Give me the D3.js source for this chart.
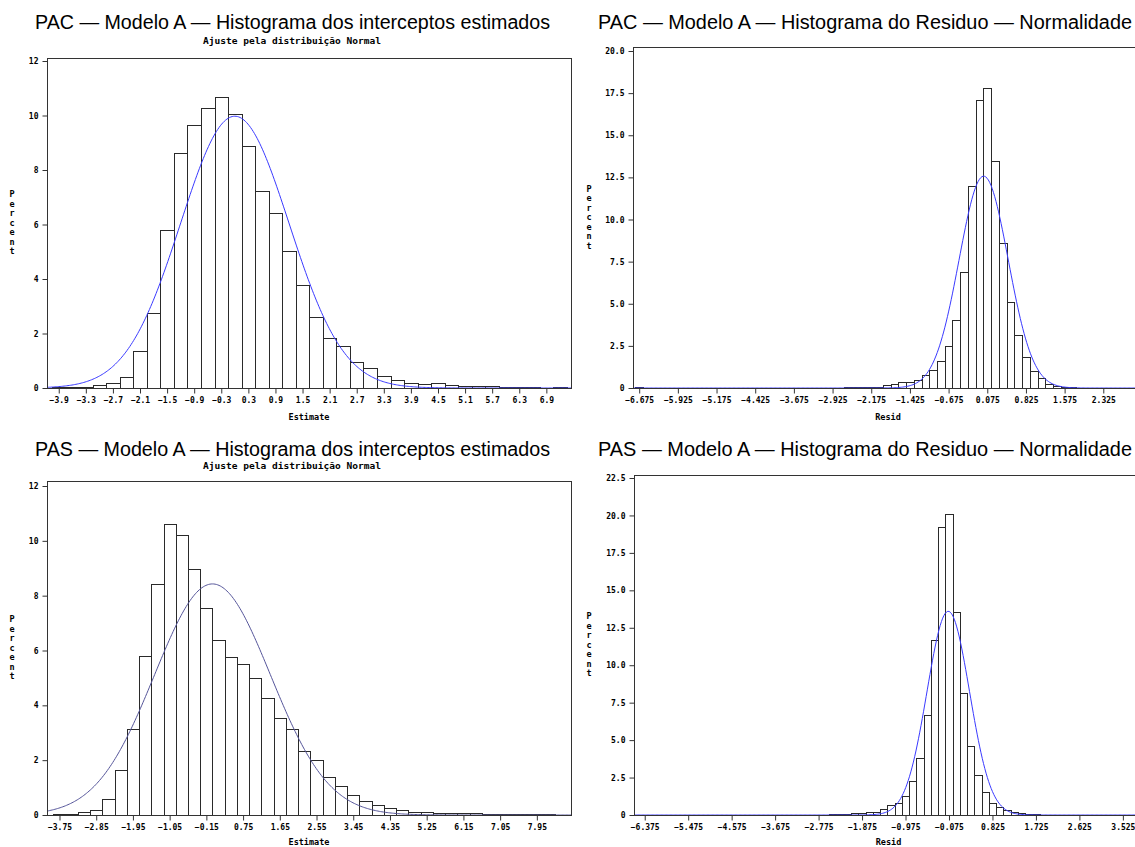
<!DOCTYPE html>
<html>
<head>
<meta charset="utf-8">
<script src="https://cdn.jsdelivr.net/npm/d3@7"></script>
<style>
  body { margin: 0; background: #fff; }
  svg text { fill: #000; }
</style>
</head>
<body>
<svg id="chart" width="1135" height="847"></svg>
<script>
// ---------- PAC: estimated intercepts (bin width 0.3) ----------
const pacEstMid = [-3.9,-3.6,-3.3,-3.0,-2.7,-2.4,-2.1,-1.8,-1.5,-1.2,-0.9,-0.6,-0.3,0.0,0.3,0.6,0.9,1.2,1.5,1.8,
  2.1,2.4,2.7,3.0,3.3,3.6,3.9,4.2,4.5,4.8,5.1,5.4,5.7,6.0,6.3,6.6,6.9,7.2];
const pacEstPct = [0.03,0.03,0.04,0.10,0.18,0.42,1.35,2.76,5.81,8.62,9.64,10.26,10.69,10.04,8.88,7.22,6.43,5.01,3.77,2.61,
  1.82,1.55,0.97,0.73,0.45,0.30,0.17,0.13,0.17,0.11,0.08,0.07,0.08,0.04,0.02,0.03,0.01,0.03];
const pacEstTicks = [-3.9,-3.3,-2.7,-2.1,-1.5,-0.9,-0.3,0.3,0.9,1.5,2.1,2.7,3.3,3.9,4.5,5.1,5.7,6.3,6.9];
const pacEstFit = { mu: 0.0, sigma: 1.2, binWidth: 0.3 };

// ---------- PAC: residuals (bin width 0.15) ----------
const pacResMid = [-6.675,-6.525,-6.375,-6.225,-6.075,-5.925,-5.775,-5.625,-5.475,-5.325,-5.175,-5.025,-4.875,-4.725,
  -4.575,-4.425,-4.275,-4.125,-3.975,-3.825,-3.675,-3.525,-3.375,-3.225,-3.075,-2.925,-2.775,-2.625,-2.475,-2.325,
  -2.175,-2.025,-1.875,-1.725,-1.575,-1.425,-1.275,-1.125,-0.975,-0.825,-0.675,-0.525,-0.375,-0.225,-0.075,
  0.075,0.225,0.375,0.525,0.675,0.825,0.975,1.125,1.275,1.425,1.575,1.725,1.875,2.025];
const pacResPct = [0.03,0,0,0,0,0,0,0,0,0,0,0,0,0,
  0.02,0.02,0.02,0.02,0,0.02,0.02,0.02,0.02,0.02,0.02,0.02,0.02,0.03,0.05,0.05,
  0.07,0.08,0.16,0.23,0.35,0.33,0.50,0.78,1.08,1.59,2.50,4.06,6.90,12.0,17.1,
  17.8,13.47,8.60,5.08,3.15,1.85,1.03,0.59,0.24,0.14,0.08,0.05,0.02,0.02];
const pacResTicks = [-6.675,-5.925,-5.175,-4.425,-3.675,-2.925,-2.175,-1.425,-0.675,0.075,0.825,1.575,2.325];
const pacResFit = { mu: 0.005, sigma: 0.476, binWidth: 0.15 };

// ---------- PAS: estimated intercepts (bin width 0.3) ----------
const pasEstMid = [-3.75,-3.45,-3.15,-2.85,-2.55,-2.25,-1.95,-1.65,-1.35,-1.05,-0.75,-0.45,-0.15,0.15,0.45,0.75,1.05,
  1.35,1.65,1.95,2.25,2.55,2.85,3.15,3.45,3.75,4.05,4.35,4.65,4.95,5.25,5.55,5.85,6.15,6.45,6.75,7.05,7.35,7.65,7.95,8.25];
const pasEstPct = [0.05,0.05,0.12,0.20,0.60,1.65,3.14,5.81,8.43,10.60,10.22,8.99,7.55,6.40,5.76,5.52,5.01,
  4.25,3.54,3.12,2.32,2.00,1.40,1.05,0.73,0.52,0.38,0.24,0.20,0.10,0.10,0.08,0.06,0.08,0.06,0.04,0.03,0.03,0.03,0.03,0.03];
const pasEstTicks = [-3.75,-2.85,-1.95,-1.05,-0.15,0.75,1.65,2.55,3.45,4.35,5.25,6.15,7.05,7.95];
const pasEstFit = { mu: 0.0, sigma: 1.42, binWidth: 0.3 };

// ---------- PAS: residuals (bin width 0.15) ----------
const pasResMid = [-4.575,-4.425,-4.275,-4.125,-3.975,-3.825,-3.675,-3.525,-3.375,-3.225,-3.075,-2.925,-2.775,-2.625,
  -2.475,-2.325,-2.175,-2.025,-1.875,-1.725,-1.575,-1.425,-1.275,-1.125,-0.975,-0.825,-0.675,-0.525,-0.375,-0.225,-0.075,
  0.075,0.225,0.375,0.525,0.675,0.825,0.975,1.125,1.275,1.425,1.575,1.725,1.875,2.025,2.175];
const pasResPct = [0.02,0.02,0.02,0.02,0.02,0.02,0.02,0.02,0.02,0.02,0.02,0.02,0.02,0.03,
  0.04,0.10,0.10,0.13,0.15,0.18,0.20,0.42,0.64,0.82,1.30,2.26,3.80,6.66,11.7,19.25,20.1,
  13.55,8.12,4.58,2.70,1.53,0.82,0.53,0.33,0.18,0.11,0.08,0.04,0.03,0.02,0.02];
const pasResTicks = [-6.375,-5.475,-4.575,-3.675,-2.775,-1.875,-0.975,-0.075,0.825,1.725,2.625,3.525];
const pasResFit = { mu: -0.09, sigma: 0.44, binWidth: 0.15 };

// ---------- y axis ticks ----------
const estYTicks = [0,2,4,6,8,10,12];
const pacResYTicks = [0,2.5,5,7.5,10,12.5,15,17.5,20];
const pasResYTicks = [0,2.5,5,7.5,10,12.5,15,17.5,20,22.5];

// ---------- panel layout ----------
const panels = [
  { title: "PAC \u2014 Modelo A \u2014 Histograma dos interceptos estimados", titleX: 35, titleW: 515, titleY: 29,
    subtitle: "Ajuste pela distribui\u00e7\u00e3o Normal", subY: 44, xLabel: "Estimate", xLabelDy: 32, yLabelX: 12,
    mids: pacEstMid, pct: pacEstPct, xTicks: pacEstTicks, xFmt: d3.format(".1f"), fit: pacEstFit,
    yTicks: estYTicks, yFmt: d => d3.format("d")(d),
    frame: { l: 47, t: 58, r: 571, b: 388 }, xDom: [-4.16, 7.446], yDom: [0, 12], yTop: 61,
    curve: "#3a3aff" },
  { title: "PAC \u2014 Modelo A \u2014 Histograma do Residuo \u2014 Normalidade", titleX: 598, titleW: 534, titleY: 29,
    subtitle: null, xLabel: "Resid", xLabelDy: 32, yLabelX: 589,
    mids: pacResMid, pct: pacResPct, xTicks: pacResTicks, xFmt: d3.format(".3f"), fit: pacResFit,
    yTicks: pacResYTicks, yFmt: d => d === 0 ? "0" : d3.format(".1f")(d),
    frame: { l: 633, t: 47, r: 1143, b: 388 }, xDom: [-6.795, 3.095], yDom: [0, 20], yTop: 51,
    curve: "#3a3aff" },
  { title: "PAS \u2014 Modelo A \u2014 Histograma dos interceptos estimados", titleX: 35, titleW: 515, titleY: 456,
    subtitle: "Ajuste pela distribui\u00e7\u00e3o Normal", subY: 469, xLabel: "Estimate", xLabelDy: 30, yLabelX: 12,
    mids: pasEstMid, pct: pasEstPct, xTicks: pasEstTicks, xFmt: d3.format(".2f"), fit: pasEstFit,
    yTicks: estYTicks, yFmt: d => d3.format("d")(d),
    frame: { l: 47, t: 481, r: 571, b: 815 }, xDom: [-4.056, 8.787], yDom: [0, 12], yTop: 486,
    curve: "#55559a" },
  { title: "PAS \u2014 Modelo A \u2014 Histograma do Residuo \u2014 Normalidade", titleX: 598, titleW: 534, titleY: 456,
    subtitle: null, xLabel: "Resid", xLabelDy: 30, yLabelX: 589,
    mids: pasResMid, pct: pasResPct, xTicks: pasResTicks, xFmt: d3.format(".3f"), fit: pasResFit,
    yTicks: pasResYTicks, yFmt: d => d === 0 ? "0" : d3.format(".1f")(d),
    frame: { l: 634, t: 475, r: 1143, b: 815 }, xDom: [-6.597, 3.942], yDom: [0, 22.5], yTop: 478,
    curve: "#3a3aff" }
];

const svg = d3.select("#chart");
const tickFont = "'DejaVu Sans Mono', monospace";

panels.forEach((p, i) => {
  const g = svg.append("g");
  const f = p.frame;
  const x = d3.scaleLinear().domain(p.xDom).range([f.l, f.r]);
  const y = d3.scaleLinear().domain(p.yDom).range([f.b, p.yTop]);

  // title and subtitle
  g.append("text").attr("x", p.titleX).attr("y", p.titleY)
    .attr("textLength", p.titleW).attr("lengthAdjust", "spacingAndGlyphs")
    .style("font-family", "'Liberation Sans', Arial, sans-serif").style("font-size", "19.5px")
    .text(p.title);
  if (p.subtitle) {
    g.append("text").attr("x", 292).attr("y", p.subY).attr("text-anchor", "middle")
      .attr("textLength", 178).attr("lengthAdjust", "spacingAndGlyphs")
      .style("font-family", tickFont).style("font-size", "8.5px").style("font-weight", "bold")
      .text(p.subtitle);
  }

  const clipId = "clip" + i;
  svg.append("clipPath").attr("id", clipId).append("rect")
    .attr("x", f.l).attr("y", f.t).attr("width", f.r - f.l).attr("height", f.b - f.t);
  const plot = g.append("g").attr("clip-path", `url(#${clipId})`);

  // histogram bars
  const bw = p.fit.binWidth;
  const bins = p.mids.map((m, k) => ({ m, v: p.pct[k] })).filter(d => d.v > 0);
  plot.selectAll("rect.bar").data(bins).join("rect").attr("class", "bar")
    .attr("x", d => Math.round(x(d.m - bw / 2)) + 0.5)
    .attr("width", d => Math.round(x(d.m + bw / 2)) - Math.round(x(d.m - bw / 2)))
    .attr("y", d => Math.round(y(d.v)) + 0.5)
    .attr("height", d => Math.max(0, Math.round(y(0)) - Math.round(y(d.v))))
    .attr("fill", "#fff").attr("stroke", "#2a2a2a").attr("stroke-width", 1)
    .attr("shape-rendering", "crispEdges");

  // fitted normal density, scaled to percent per bin
  const dens = v => 100 * bw / (p.fit.sigma * Math.sqrt(2 * Math.PI)) *
    Math.exp(-0.5 * Math.pow((v - p.fit.mu) / p.fit.sigma, 2));
  const xs = d3.range(400).map(k => p.xDom[0] + (p.xDom[1] - p.xDom[0]) * k / 399);
  plot.append("path").datum(xs)
    .attr("d", d3.line().x(v => x(v)).y(v => y(dens(v))))
    .attr("fill", "none").attr("stroke", p.curve).attr("stroke-width", 1);

  // frame
  g.append("rect").attr("x", f.l + 0.5).attr("y", f.t + 0.5)
    .attr("width", f.r - f.l).attr("height", f.b - f.t)
    .attr("fill", "none").attr("stroke", "#333").attr("shape-rendering", "crispEdges");

  // x axis
  const xAxis = d3.axisBottom(x).tickValues(p.xTicks).tickFormat(p.xFmt).tickSize(5).tickPadding(4);
  const xa = g.append("g").attr("transform", `translate(0,${f.b + 0.5})`).call(xAxis);
  xa.select(".domain").remove();
  xa.selectAll("line").attr("stroke", "#333");
  xa.selectAll("text").style("font-family", tickFont).style("font-size", "8px").style("font-weight", "bold");

  // y axis
  const yAxis = d3.axisLeft(y).tickValues(p.yTicks).tickFormat(p.yFmt).tickSize(5).tickPadding(4);
  const ya = g.append("g").attr("transform", `translate(${f.l + 0.5},0)`).call(yAxis);
  ya.select(".domain").remove();
  ya.selectAll("line").attr("stroke", "#333");
  ya.selectAll("text").style("font-family", tickFont).style("font-size", "8px").style("font-weight", "bold");

  // axis labels
  g.append("text").attr("x", (f.l + f.r) / 2).attr("y", f.b + p.xLabelDy).attr("text-anchor", "middle")
    .style("font-family", tickFont).style("font-size", "8.5px").style("font-weight", "bold")
    .text(p.xLabel);
  const letters = "Percent".split("");
  const cy = (f.t + f.b) / 2;
  g.append("g").selectAll("text").data(letters).join("text")
    .attr("x", p.yLabelX).attr("y", (d, k) => cy - 26 + k * 9.5).attr("text-anchor", "middle")
    .style("font-family", tickFont).style("font-size", "8.5px").style("font-weight", "bold")
    .text(d => d);
});
</script>
</body>
</html>
